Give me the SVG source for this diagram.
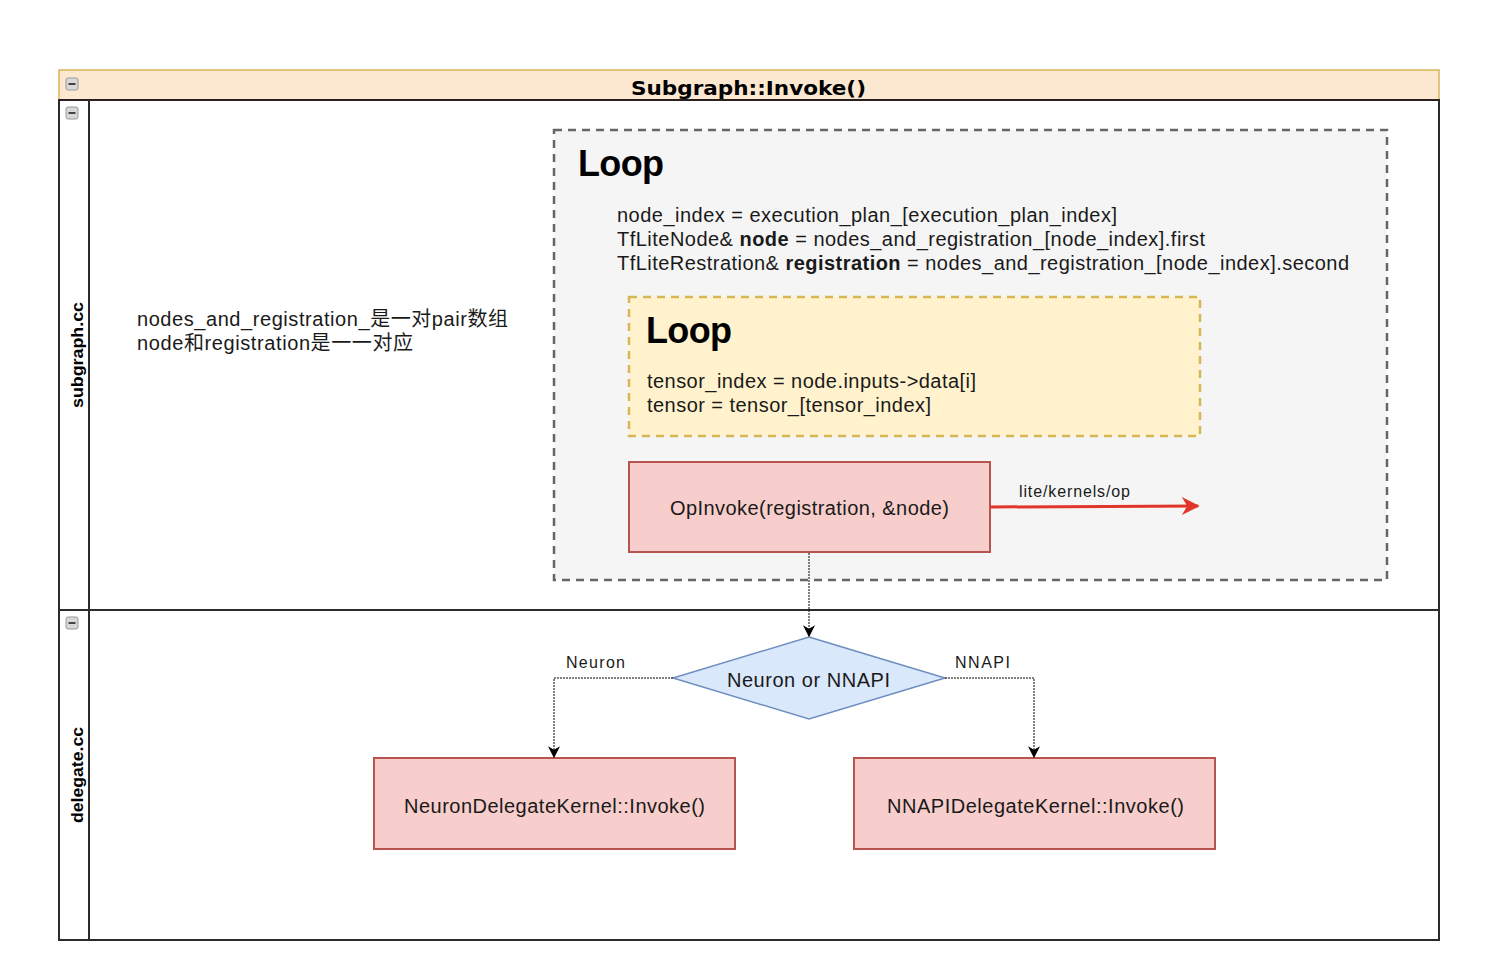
<svg xmlns="http://www.w3.org/2000/svg" width="1490" height="970" viewBox="0 0 1490 970">
<style>
text{font-family:"Liberation Sans",Arial,"Noto Sans CJK SC",sans-serif;fill:#1a1a1a}
.t18{font-size:20px}
.lbl{font-size:16px}
.loop{font-size:36px;font-weight:bold;fill:#000}
.lane{font-size:16px;font-weight:bold;fill:#000}
.red{fill:#f8cecc;stroke:#b85450;stroke-width:2}
.dot{fill:none;stroke:#000;stroke-width:1;stroke-dasharray:2 1}
.icon{fill:#d8d8d8;stroke:#9a9a9a;stroke-width:1}
</style>
<defs>
<marker id="ah" viewBox="0 0 10 10" refX="9" refY="5" markerWidth="12" markerHeight="12" markerUnits="userSpaceOnUse" orient="auto">
<path d="M0,0 L10,5 L0,10 L3,5 Z" fill="#000"/>
</marker>
<marker id="ahr" viewBox="0 0 10 10" refX="9" refY="5" markerWidth="20" markerHeight="18" markerUnits="userSpaceOnUse" orient="auto">
<path d="M0,0 L10,5 L0,10 L3,5 Z" fill="#e0362b"/>
</marker>
<g id="minus">
<rect x="0" y="0" width="12" height="12" rx="2" class="icon"/>
<rect x="2.5" y="5" width="7" height="2" fill="#444"/>
</g>
</defs>
<rect width="1490" height="970" fill="#fff"/>
<g id="pool">
<rect x="59" y="70" width="1380" height="30" fill="#fce7d0" stroke="#d6b656" stroke-width="1.5"/>
<rect x="59" y="100" width="1380" height="840" fill="#fff" stroke="#2b2b2b" stroke-width="2"/>
<line x1="59" y1="100" x2="1439" y2="100" stroke="#2b2020" stroke-width="2"/>
<text x="631" y="95" textLength="235" lengthAdjust="spacingAndGlyphs" style="font-family:'DejaVu Sans',Verdana,sans-serif;font-size:20px;font-weight:bold;fill:#000">Subgraph::Invoke()</text>
<use href="#minus" x="66" y="78"/>
</g>
<g id="lane-subgraph">
<line x1="89" y1="100" x2="89" y2="940" stroke="#2b2b2b" stroke-width="2"/>
<line x1="59" y1="610" x2="1439" y2="610" stroke="#2b2b2b" stroke-width="2"/>
<use href="#minus" x="66" y="107"/>
<text class="lane" transform="translate(83,408) rotate(-90)" textLength="106" lengthAdjust="spacingAndGlyphs">subgraph.cc</text>
<text class="t18" x="137" y="326" textLength="371">nodes_and_registration_是一对pair数组</text>
<text class="t18" x="137" y="350" textLength="276">node和registration是一一对应</text>
</g>
<g id="lane-delegate">
<use href="#minus" x="66" y="617"/>
<text class="lane" transform="translate(83,823) rotate(-90)" textLength="96" lengthAdjust="spacingAndGlyphs">delegate.cc</text>
</g>
<g id="outer-loop">
<rect x="554" y="130" width="833" height="450" fill="#f5f5f5" stroke="#666" stroke-width="2.5" stroke-dasharray="8 6"/>
<text class="loop" x="578" y="176" textLength="86">Loop</text>
<text class="t18" x="617" y="222" textLength="500">node_index = execution_plan_[execution_plan_index]</text>
<text class="t18" x="617" y="246" textLength="588">TfLiteNode&amp; <tspan font-weight="bold">node</tspan> = nodes_and_registration_[node_index].first</text>
<text class="t18" x="617" y="270" textLength="732">TfLiteRestration&amp; <tspan font-weight="bold">registration</tspan> = nodes_and_registration_[node_index].second</text>
</g>
<g id="inner-loop">
<rect x="629" y="297" width="571" height="139" fill="#fff2cc" stroke="#d6b656" stroke-width="2.5" stroke-dasharray="8 6"/>
<text class="loop" x="646" y="343" textLength="86">Loop</text>
<text class="t18" x="647" y="388" textLength="329">tensor_index = node.inputs-&gt;data[i]</text>
<text class="t18" x="647" y="412" textLength="284">tensor = tensor_[tensor_index]</text>
</g>
<g id="opinvoke">
<rect x="629" y="462" width="361" height="90" class="red"/>
<text class="t18" x="670" y="515" textLength="279">OpInvoke(registration, &amp;node)</text>
</g>
<g id="decision">
<polygon points="809,637 945,678 809,719 673,678" fill="#dae8fc" stroke="#6c8ebf" stroke-width="1.5"/>
<text class="t18" x="727" y="687" textLength="163">Neuron or NNAPI</text>
</g>
<g id="neuron">
<rect x="374" y="758" width="361" height="91" class="red"/>
<text class="t18" x="404" y="813" textLength="301">NeuronDelegateKernel::Invoke()</text>
</g>
<g id="nnapi">
<rect x="854" y="758" width="361" height="91" class="red"/>
<text class="t18" x="887" y="813" textLength="297">NNAPIDelegateKernel::Invoke()</text>
</g>
<g id="connectors">
<line x1="990" y1="507" x2="1198" y2="506" stroke="#e0362b" stroke-width="3" marker-end="url(#ahr)"/>
<text class="lbl" x="1019" y="497" textLength="111">lite/kernels/op</text>
<path d="M809,553 L809,636" class="dot" marker-end="url(#ah)"/>
<path d="M673,678 L554,678 L554,757" class="dot" marker-end="url(#ah)"/>
<text class="lbl" x="566" y="668" textLength="59">Neuron</text>
<path d="M945,678 L1034,678 L1034,757" class="dot" marker-end="url(#ah)"/>
<text class="lbl" x="955" y="668" textLength="55">NNAPI</text>
</g>
</svg>
